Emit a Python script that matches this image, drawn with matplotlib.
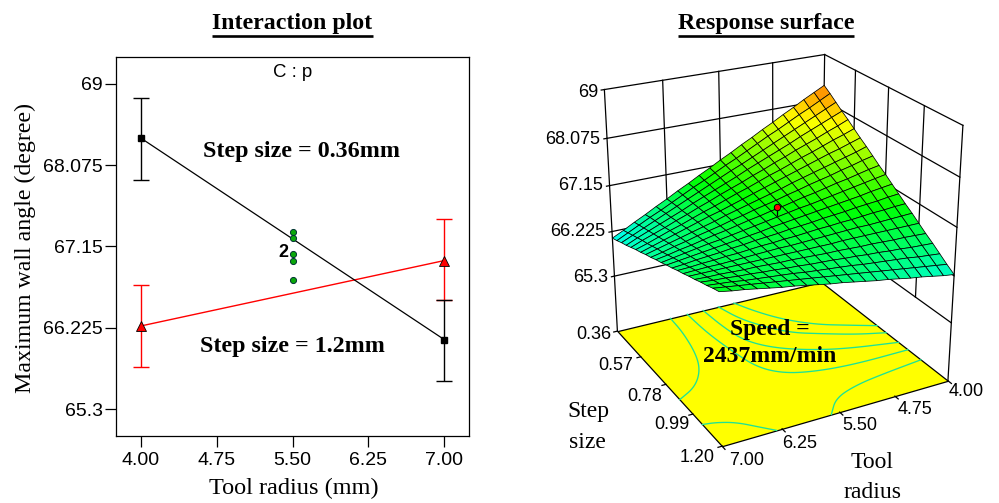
import numpy as np, matplotlib
matplotlib.use('Agg')
import matplotlib.pyplot as plt
from matplotlib.colors import LinearSegmentedColormap, Normalize
from matplotlib.lines import Line2D
from mpl_toolkits.mplot3d import proj3d

# ---------- left panel data ----------
tool_ticks = [4.00, 4.75, 5.50, 6.25, 7.00]
tool_labels = ['4.00', '4.75', '5.50', '6.25', '7.00']
angle_ticks = [65.3, 66.225, 67.15, 68.075, 69]
angle_labels = ['65.3', '66.225', '67.15', '68.075', '69']
tool_ends = [4.0, 7.0]
small_step = [68.385, 66.09]
small_step_lo = [67.907, 65.62]
small_step_hi = [68.837, 66.54]
large_step = [66.245, 66.99]
large_step_lo = [65.78, 66.54]
large_step_hi = [66.71, 67.46]
center_tool = [5.5, 5.5, 5.5, 5.5, 5.5]
center_vals = [67.31, 67.25, 67.07, 66.99, 66.77]

# ---------- right panel data ----------
step_ticks = [0.36, 0.57, 0.78, 0.99, 1.20]
step_labels = ['0.36', '0.57', '0.78', '0.99', '1.20']
floor_level = 64.12
grid_tool = [4.0 + 0.15 * i for i in range(21)]
grid_step = [0.36 + 0.042 * i for i in range(21)]
surface = [
 [68.38,68.27,68.16,68.04,67.93,67.81,67.70,67.58,67.47,67.35,67.24,67.12,67.01,66.89,66.78,66.66,66.55,66.43,66.32,66.20,66.09],
 [68.28,68.17,68.06,67.96,67.85,67.74,67.64,67.53,67.42,67.31,67.21,67.10,66.99,66.89,66.78,66.67,66.56,66.46,66.35,66.24,66.13],
 [68.17,68.07,67.97,67.87,67.77,67.67,67.57,67.47,67.37,67.27,67.18,67.08,66.98,66.88,66.78,66.68,66.58,66.48,66.38,66.28,66.18],
 [68.06,67.97,67.88,67.79,67.70,67.60,67.51,67.42,67.33,67.24,67.14,67.05,66.96,66.87,66.78,66.68,66.59,66.50,66.41,66.32,66.22],
 [67.96,67.87,67.79,67.70,67.62,67.54,67.45,67.37,67.28,67.20,67.11,67.03,66.95,66.86,66.78,66.69,66.61,66.52,66.44,66.36,66.27],
 [67.85,67.77,67.70,67.62,67.54,67.47,67.39,67.31,67.24,67.16,67.08,67.01,66.93,66.85,66.78,66.70,66.62,66.55,66.47,66.39,66.32],
 [67.74,67.67,67.60,67.54,67.47,67.40,67.33,67.26,67.19,67.12,67.05,66.98,66.91,66.84,66.78,66.71,66.64,66.57,66.50,66.43,66.36],
 [67.64,67.57,67.51,67.45,67.39,67.33,67.27,67.21,67.14,67.08,67.02,66.96,66.90,66.84,66.77,66.71,66.65,66.59,66.53,66.47,66.41],
 [67.53,67.48,67.42,67.37,67.31,67.26,67.21,67.15,67.10,67.04,66.99,66.94,66.88,66.83,66.77,66.72,66.67,66.61,66.56,66.50,66.45],
 [67.42,67.38,67.33,67.28,67.24,67.19,67.14,67.10,67.05,67.00,66.96,66.91,66.87,66.82,66.77,66.73,66.68,66.63,66.59,66.54,66.50],
 [67.32,67.28,67.24,67.20,67.16,67.12,67.08,67.04,67.01,66.97,66.93,66.89,66.85,66.81,66.77,66.73,66.70,66.66,66.62,66.58,66.54],
 [67.21,67.18,67.15,67.11,67.08,67.05,67.02,66.99,66.96,66.93,66.90,66.87,66.83,66.80,66.77,66.74,66.71,66.68,66.65,66.62,66.59],
 [67.10,67.08,67.05,67.03,67.01,66.98,66.96,66.94,66.91,66.89,66.87,66.84,66.82,66.80,66.77,66.75,66.72,66.70,66.68,66.65,66.63],
 [66.99,66.98,66.96,66.95,66.93,66.91,66.90,66.88,66.87,66.85,66.83,66.82,66.80,66.79,66.77,66.75,66.74,66.72,66.71,66.69,66.68],
 [66.89,66.88,66.87,66.86,66.85,66.85,66.84,66.83,66.82,66.81,66.80,66.79,66.79,66.78,66.77,66.76,66.75,66.74,66.74,66.73,66.72],
 [66.78,66.78,66.78,66.78,66.78,66.78,66.78,66.78,66.77,66.77,66.77,66.77,66.77,66.77,66.77,66.77,66.77,66.77,66.77,66.77,66.77],
 [66.67,66.68,66.69,66.69,66.70,66.71,66.71,66.72,66.73,66.73,66.74,66.75,66.76,66.76,66.77,66.78,66.78,66.79,66.80,66.80,66.81],
 [66.57,66.58,66.59,66.61,66.62,66.64,66.65,66.67,66.68,66.70,66.71,66.72,66.74,66.75,66.77,66.78,66.80,66.81,66.83,66.84,66.86],
 [66.46,66.48,66.50,66.53,66.55,66.57,66.59,66.61,66.64,66.66,66.68,66.70,66.72,66.75,66.77,66.79,66.81,66.83,66.86,66.88,66.90],
 [66.35,66.38,66.41,66.44,66.47,66.50,66.53,66.56,66.59,66.62,66.65,66.68,66.71,66.74,66.77,66.80,66.83,66.86,66.89,66.92,66.95],
 [66.25,66.28,66.32,66.36,66.39,66.43,66.47,66.50,66.54,66.58,66.62,66.65,66.69,66.73,66.77,66.80,66.84,66.88,66.92,66.95,66.99],
]
contours = [
 ([5.34,5.19,4.98,4.67,4.31,4.0], [0.36,0.46,0.56,0.65,0.71,0.76]),
 ([5.57,5.47,5.3,5.07,4.73,4.36,4.0], [0.36,0.48,0.57,0.66,0.72,0.78,0.82]),
 ([5.79,5.76,5.69,5.48,5.15,4.7,4.0], [0.36,0.51,0.63,0.72,0.79,0.85,0.9]),
 ([6.02,6.01,5.95,5.86,5.64,5.27,4.76,4.0], [0.36,0.52,0.67,0.82,0.9,0.94,0.96,0.96]),
 ([6.26,6.28,6.37,6.5,6.72,7.0], [0.36,0.48,0.64,0.75,0.84,0.89]),
 ([4.0,4.58,5.01,5.38,5.61], [1.04,1.06,1.08,1.12,1.2]),
 ([7.0,6.84,6.64,6.45,6.32], [1.06,1.07,1.1,1.16,1.2]),
]
design_point = (5.5, 0.78, 67.12)
design_base = 66.98

SANS = 'Liberation Sans'
SERIF = 'Liberation Serif'
W, H = 999, 503
fig = plt.figure(figsize=(W / 100, H / 100), dpi=100)

# ---------- left panel ----------
ax = fig.add_axes([116 / W, 1 - 436 / H, 353 / W, 379 / H])
ax.set_xlim(3.756, 7.244)
ax.set_ylim(64.993, 69.307)
ax.errorbar(tool_ends, large_step,
            yerr=[np.subtract(large_step, large_step_lo), np.subtract(large_step_hi, large_step)],
            color='#ff0000', lw=1, elinewidth=1, capsize=5.8, capthick=1, zorder=2)
ax.errorbar(tool_ends, small_step,
            yerr=[np.subtract(small_step, small_step_lo), np.subtract(small_step_hi, small_step)],
            color='black', lw=0.9, elinewidth=1, capsize=5.8, capthick=1, zorder=3)
ax.plot(tool_ends, small_step, ls='none', marker='s', ms=4.4, color='black', zorder=4)
ax.plot(tool_ends, large_step, ls='none', marker='^', ms=6.5, mfc='#ff0000', mec='black', mew=0.6, zorder=4)
ax.plot(center_tool, center_vals, ls='none', marker='o', ms=4.4, mfc='#0aa80a', mec='#033', mew=0.7, zorder=5)
ax.set_xticks(tool_ticks, tool_labels)
ax.set_yticks(angle_ticks, angle_labels)
ax.tick_params(axis='both', direction='out', length=7.8, width=0.9, labelsize=14)
ax.tick_params(axis='y', pad=1.5)
ax.tick_params(axis='x', pad=3.5)
for lab in ax.get_xticklabels() + ax.get_yticklabels():
    lab.set_family(SANS)
for sp in ax.spines.values():
    sp.set_linewidth(0.9)
ax.text(5.46, 67.08, '2', fontsize=13, family=SANS, fontweight='bold', ha='right', va='center', zorder=6)
ax.text(0.5, 0.982, 'C : p', transform=ax.transAxes, fontsize=13.4, family=SANS, ha='center', va='top')
ax.text(5.59, 68.23, 'Step size = 0.36mm', fontsize=17.3, family=SERIF, fontweight='bold', ha='center', va='center')
ax.text(5.495, 66.01, 'Step size = 1.2mm', fontsize=17.3, family=SERIF, fontweight='bold', ha='center', va='center')
fig.text(294 / W, 1 - 488 / H, 'Tool radius (mm)', fontsize=17.5, family=SERIF, ha='center', va='center')
fig.text(25.5 / W, 1 - 248 / H, 'Maximum wall angle (degree)', fontsize=17.2, family=SERIF,
         rotation=90, ha='center', va='center')

# ---------- titles ----------
for cx, x0, x1, title in [(292, 212, 373, 'Interaction plot'), (766, 678, 854, 'Response surface')]:
    fig.text(cx / W, 1 - 23 / H, title, fontsize=17.2, family=SERIF, fontweight='bold', ha='center', va='center')
    fig.add_artist(Line2D([x0 / W, x1 / W], [1 - 35.5 / H] * 2, color='black', lw=1.9, solid_capstyle='butt'))

# ---------- right panel ----------
side = 437.46
a3 = fig.add_axes([552.49 / W, 42.37 / H, side / W, side / H], projection='3d', computed_zorder=False)
a3.set_xlim(4, 7)
a3.set_ylim(0.36, 1.2)
a3.set_zlim(floor_level, 69)
a3.view_init(elev=24.266, azim=61.7696, roll=0)
a3.set_box_aspect((0.9298, 0.9389, 1.0))
a3.set_proj_type('persp', focal_length=0.583)
a3.set_axis_off()
a3.patch.set_alpha(0)

t_lo, t_hi = tool_ticks[0], tool_ticks[-1]
s_lo, s_hi = step_ticks[0], step_ticks[-1]
z_lo, z_hi = angle_ticks[0], angle_ticks[-1]
wall = dict(color='black', lw=0.9, zorder=1)
for z in angle_ticks:
    a3.plot([t_hi, t_lo], [s_lo, s_lo], [z, z], **wall)
    a3.plot([t_lo, t_lo], [s_lo, s_hi], [z, z], **wall)
    a3.plot([t_hi, t_hi + 0.04], [s_lo, s_lo], [z, z], **wall)
for t in tool_ticks[1:4]:
    a3.plot([t, t], [s_lo, s_lo], [z_lo, z_hi], **wall)
for s in step_ticks[1:4]:
    a3.plot([t_lo, t_lo], [s, s], [z_lo, z_hi], **wall)
for t, s in [(t_hi, s_lo), (t_lo, s_lo), (t_lo, s_hi)]:
    a3.plot([t, t], [s, s], [floor_level, z_hi], **wall)

ft, fs = np.meshgrid([t_lo, t_hi], [s_lo, s_hi])
a3.plot_surface(ft, fs, np.full_like(ft, floor_level), color='#ffff00', shade=False,
                edgecolor='black', linewidth=0.9, zorder=2)

def rounded(xs, ys, passes=3):
    """Corner-cut a hand-read contour so it draws as a curve; its ends stay put."""
    p = np.column_stack([xs, ys])
    for _ in range(passes):
        q = np.empty((2 * len(p), 2))
        q[0::2] = 0.75 * p + 0.25 * np.roll(p, -1, axis=0)
        q[1::2] = 0.25 * p + 0.75 * np.roll(p, -1, axis=0)
        p = np.vstack([p[0], q[:-2], p[-1]])
    return p[:, 0], p[:, 1]

for ct, cs in contours:
    rt, rs = rounded(ct, cs)
    a3.plot(rt, rs, np.full(len(rt), floor_level), color='#1ee296', lw=0.95, zorder=3)
for s in step_ticks:
    a3.plot([t_hi, t_hi + 0.05], [s, s], [floor_level] * 2, color='black', lw=0.9, zorder=3)
for t in tool_ticks:
    a3.plot([t, t], [s_hi, s_hi + 0.02], [floor_level] * 2, color='black', lw=0.9, zorder=3)

cmap = LinearSegmentedColormap.from_list('de', ['#00ffff', '#00ff00', '#ffff00', '#ff0000'])
gt, gs = np.meshgrid(grid_tool, grid_step)
gz = np.array(surface)
a3.plot_surface(gt, gs, gz, facecolors=cmap(Normalize(66.09, 68.95)(gz)), rstride=1, cstride=1,
                shade=False, edgecolor='black', linewidth=0.55, zorder=4)
a3.plot([design_point[0]] * 2, [design_point[1]] * 2, [design_base, design_point[2]], color='black', lw=0.9, zorder=5)
a3.plot([design_point[0]], [design_point[1]], [design_point[2]], ls='none', marker='o', ms=4.6,
        mfc='#ff0000', mec='black', mew=0.7, zorder=6)

a3.apply_aspect()
def pix(t, s, z):
    x, y, _ = proj3d.proj_transform(np.array([t]), np.array([s]), np.array([z]), a3.get_proj())
    return a3.transData.transform((float(x[0]), float(y[0])))
def label(t, s, z, text, dx, dy, ha):
    p = pix(t, s, z)
    fig.text((p[0] + dx) / W, (p[1] - dy) / H, text, fontsize=13, family=SANS, ha=ha, va='center')

for z, lab, dy in zip(angle_ticks, angle_labels, [1, 0, 0, 1, 3]):
    label(t_hi, s_lo, z, lab, -6.5, dy, 'right')
for s, lab, dx, dy in zip(step_ticks, step_labels, [-6, -8, -4, -3, -7], [3, 9, 12, 10, 11]):
    label(t_hi, s, floor_level, lab, dx, dy, 'right')
for t, lab, dx, dy in zip(tool_ticks, tool_labels, [1, 3, 3, 0, 7], [11, 13, 13, 15, 14]):
    label(t, s_hi, floor_level, lab, dx, dy, 'left')

for cx, cy, txt in [(588, 411, 'Step'), (587, 442, 'size'), (872, 463, 'Tool'), (872, 492, 'radius')]:
    fig.text(cx / W, 1 - cy / H, txt, fontsize=17, family=SERIF, ha='center', va='center')
for cy, txt in [(329, 'Speed ='), (357, '2437mm/min')]:
    fig.text(770 / W, 1 - cy / H, txt, fontsize=17, family=SERIF, fontweight='bold', ha='center', va='center')

fig.savefig('out.png', dpi=100)
